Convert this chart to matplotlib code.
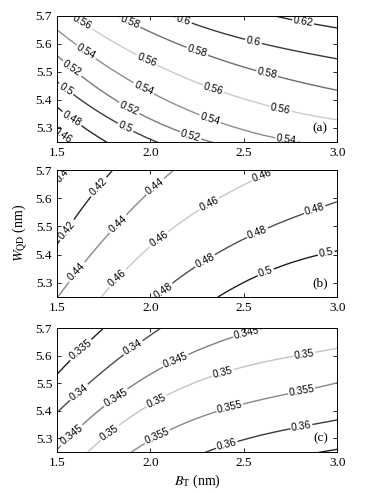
import numpy as np
import matplotlib
matplotlib.use("Agg")
import matplotlib.pyplot as plt

plt.rcParams['font.family'] = ['Liberation Serif', 'DejaVu Serif']
plt.rcParams['mathtext.fontset'] = 'stix'

# columns of B_T where the contour crossings were read (nm)
bt_cols = [1.5, 1.75, 2.0, 2.25, 2.5, 2.75, 3.0]

# panel (a): level values and W_QD position of each level in every column
levels_a = [0.44, 0.46, 0.48, 0.50, 0.52, 0.54, 0.56, 0.58, 0.60, 0.62, 0.64]
cross_a = [
    [5.20, 5.07, 4.98, 4.91, 4.87, 4.84, 4.82],
    [5.29, 5.16, 5.07, 5.00, 4.96, 4.93, 4.91],
    [5.375, 5.255, 5.17, 5.11, 5.07, 5.04, 5.02],
    [5.464, 5.35, 5.256, 5.20, 5.16, 5.13, 5.11],
    [5.56, 5.423, 5.333, 5.268, 5.22, 5.19, 5.17],
    [5.649, 5.53, 5.43, 5.345, 5.292, 5.258, 5.232],
    [5.74, 5.625, 5.536, 5.464, 5.405, 5.357, 5.33],
    [5.83, 5.73, 5.637, 5.577, 5.518, 5.47, 5.435],
    [5.93, 5.83, 5.73, 5.66, 5.62, 5.583, 5.544],
    [6.02, 5.93, 5.84, 5.77, 5.73, 5.69, 5.655],
    [6.11, 6.02, 5.94, 5.87, 5.83, 5.79, 5.76],
]
shown_a = [0.46, 0.48, 0.50, 0.52, 0.54, 0.56, 0.58, 0.60, 0.62]
colors_a = ['#1e1e1e', '#2a2a2a', '#3c3c3c', '#7a7a7a', '#8e8e8e',
            '#cacaca', '#6e6e6e', '#3a3a3a', '#2a2a2a']

# panel (b)
levels_b = [0.38, 0.40, 0.42, 0.44, 0.46, 0.48, 0.50, 0.52]
cross_b = [
    [5.85, 6.05, 6.20, 6.30, 6.40, 6.45, 6.50],
    [5.655, 5.85, 6.02, 6.14, 6.24, 6.30, 6.35],
    [5.434, 5.665, 5.84, 5.97, 6.07, 6.15, 6.20],
    [5.25, 5.44, 5.635, 5.77, 5.88, 5.97, 6.05],
    [5.03, 5.26, 5.428, 5.558, 5.64, 5.73, 5.80],
    [4.85, 5.05, 5.25, 5.357, 5.451, 5.528, 5.588],
    [4.62, 4.85, 5.05, 5.23, 5.28, 5.37, 5.416],
    [4.40, 4.65, 4.85, 5.00, 5.10, 5.18, 5.23],
]
shown_b = [0.40, 0.42, 0.44, 0.46, 0.48, 0.50]
colors_b = ['#1e1e1e', '#262626', '#8a8a8a', '#c8c8c8', '#4e4e4e', '#1e1e1e']

# panel (c)
levels_c = [0.330, 0.335, 0.340, 0.345, 0.350, 0.355, 0.360, 0.365, 0.370]
cross_c = [
    [5.68, 5.86, 6.00, 6.10, 6.18, 6.24, 6.29],
    [5.533, 5.70, 5.84, 5.95, 6.04, 6.10, 6.15],
    [5.397, 5.536, 5.682, 5.78, 5.87, 5.92, 5.97],
    [5.258, 5.415, 5.536, 5.615, 5.678, 5.73, 5.76],
    [5.13, 5.306, 5.421, 5.506, 5.561, 5.597, 5.627],
    [5.00, 5.17, 5.30, 5.37, 5.42, 5.47, 5.50],
    [4.85, 5.02, 5.15, 5.245, 5.288, 5.336, 5.367],
    [4.70, 4.88, 5.02, 5.12, 5.18, 5.23, 5.26],
    [4.55, 4.74, 4.88, 4.98, 5.05, 5.10, 5.14],
]
shown_c = [0.335, 0.340, 0.345, 0.350, 0.355, 0.360, 0.365]
colors_c = ['#1e1e1e', '#4a4a4a', '#7e7e7e', '#c4c4c4', '#888888', '#3a3a3a', '#1e1e1e']

# label spots (B_T, W_QD)
spots_a = [(1.634, 5.673), (1.981, 5.542), (2.337, 5.435), (2.694, 5.357),
           (1.651, 5.565), (1.963, 5.44), (2.32, 5.333), (2.73, 5.268),
           (1.571, 5.50), (1.883, 5.363), (2.213, 5.268),
           (1.536, 5.423), (1.865, 5.298), (1.571, 5.321), (1.518, 5.262),
           (1.892, 5.679), (2.248, 5.565), (2.622, 5.482),
           (2.177, 5.682), (2.551, 5.604), (2.818, 5.679)]
spots_b = [(1.527, 5.682), (1.553, 5.487), (1.723, 5.641),
           (1.598, 5.345), (1.83, 5.505), (2.026, 5.641),
           (1.812, 5.327), (2.034, 5.469), (2.32, 5.57), (2.605, 5.665),
           (2.052, 5.292), (2.284, 5.392), (2.569, 5.487), (2.88, 5.558),
           (2.622, 5.327), (2.943, 5.398)]
spots_c = [(1.634, 5.615), (1.625, 5.458), (1.901, 5.639),
           (1.553, 5.336), (1.812, 5.452), (2.141, 5.573), (2.515, 5.682),
           (1.785, 5.318), (2.034, 5.433), (2.391, 5.53), (2.827, 5.597),
           (2.034, 5.312), (2.426, 5.409), (2.809, 5.476),
           (2.409, 5.276), (2.809, 5.342)]

w_grid = np.linspace(5.2, 5.75, 111)
bt_grid = np.linspace(1.5, 3.0, 61)


def field(levels, cross):
    # smooth each read level line along B_T, then rebuild the value column by column
    cross = np.array(cross)
    lev = np.array(levels)
    lines = np.array([np.polyval(np.polyfit(bt_cols, row, 3), bt_grid) for row in cross])
    Z = np.empty((len(w_grid), len(bt_grid)))
    for j in range(len(bt_grid)):
        order = np.argsort(lines[:, j])
        Z[:, j] = np.interp(w_grid, lines[order, j], lev[order])
    return Z


fig = plt.figure(figsize=(3.75, 4.93), dpi=100)
boxes = [[0.152, 0.712, 0.747, 0.256],
         [0.152, 0.398, 0.747, 0.257],
         [0.152, 0.083, 0.747, 0.251]]
panels = [(levels_a, cross_a, shown_a, colors_a, spots_a, '(a)'),
          (levels_b, cross_b, shown_b, colors_b, spots_b, '(b)'),
          (levels_c, cross_c, shown_c, colors_c, spots_c, '(c)')]

for box, (lev, cr, shown, cols, spots, tag) in zip(boxes, panels):
    ax = fig.add_axes(box)
    Z = field(lev, cr)
    cs = ax.contour(bt_grid, w_grid, Z, levels=shown, colors=cols, linewidths=1.0)
    ax.clabel(cs, fmt='%g', fontsize=7.5, colors='k', inline=True,
              inline_spacing=2, manual=spots)
    for t in cs.labelTexts:
        t.set_family(['Liberation Sans', 'DejaVu Sans'])
    ax.set_xlim(1.5, 3.0)
    ax.set_ylim(5.25, 5.7)
    ax.set_xticks([1.5, 2.0, 2.5, 3.0])
    ax.set_xticklabels(['1.5', '2.0', '2.5', '3.0'])
    ax.set_yticks([5.3, 5.4, 5.5, 5.6, 5.7])
    ax.tick_params(direction='in', top=True, right=True, labelsize=9.5,
                   length=3, width=0.6)
    for s in ax.spines.values():
        s.set_linewidth(0.7)
    ax.text(0.94, 0.11, tag, transform=ax.transAxes, ha='center', va='center',
            fontsize=9.5)
    if tag == '(b)':
        ax.set_ylabel(r'$W_{\rm QD}$ (nm)', fontsize=10, labelpad=4)
    if tag == '(c)':
        ax.set_xlabel(r'$B_{\rm T}$ (nm)', fontsize=10, labelpad=3)

fig.savefig('out.png', dpi=100)
